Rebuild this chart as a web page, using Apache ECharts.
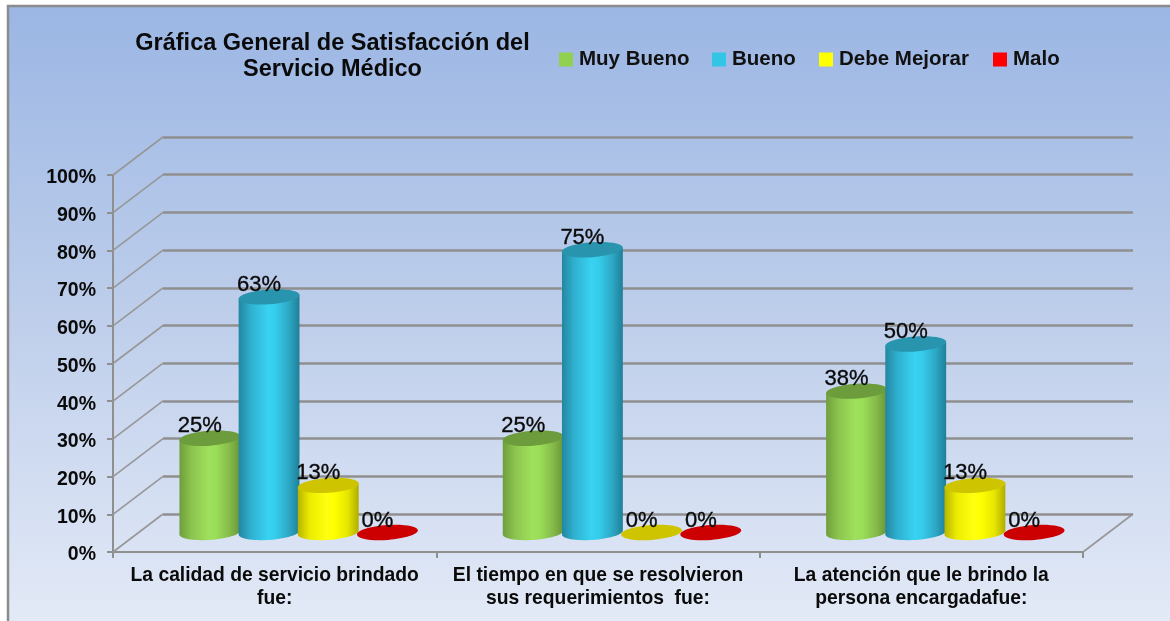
<!DOCTYPE html>
<html><head><meta charset="utf-8">
<style>html,body{margin:0;padding:0;background:#fff;overflow:hidden}#c{position:absolute;left:0;top:0;width:1170px;height:621px;filter:blur(0.5px)}</style>
<script src="https://cdn.jsdelivr.net/npm/echarts@6/dist/echarts.min.js"></script>
</head><body><div id="c"></div>
<script>
const categories = ['La calidad de servicio brindado\nfue:', 'El tiempo en que se resolvieron\nsus requerimientos  fue:', 'La atención que le brindo la\npersona encargadafue:'];
const muyBueno = [25, 25, 37.5];
const bueno = [62.5, 75, 50];
const debeMejorar = [12.5, 0, 12.5];
const malo = [0, 0, 0];
const valueTicks = [0, 10, 20, 30, 40, 50, 60, 70, 80, 90, 100];
const titleText = 'Gráfica General de Satisfacción del\nServicio Médico';

const DEPTH_X = 50, DEPTH_Y = 38;
const RX = 30.5, RY = 7.4, TILT = 0.07, STEP = 59.2;
const palettes = [
  {name:'Muy Bueno', data:muyBueno, legend:'#92d050', legendLeft:554, top:'#6c9c3c', stops:['#6f9e3e','#8cc44e','#9fe05c','#9ade58','#86bb4a','#679539']},
  {name:'Bueno', data:bueno, legend:'#33c5e6', legendLeft:707, top:'#2894ae', stops:['#2386a0','#2fb0cf','#38d2f2','#36cdec','#2da9c6','#1f7f98']},
  {name:'Debe Mejorar', data:debeMejorar, legend:'#ffff00', legendLeft:814, top:'#cfc400', stops:['#b8b400','#ecec00','#ffff10','#ffff00','#e6e600','#b0ac00']},
  {name:'Malo', data:malo, legend:'#ff0000', legendLeft:988, top:'#cc0000', stops:['#a00000','#e00000','#ff0000','#ff0000','#d80000','#980000']}
];

function cylinder(sIdx, pal) {
  return function (params, api) {
    const cat = api.value(0), val = api.value(1);
    const base = api.coord([cat, 0]), topP = api.coord([cat, val]);
    const cx = base[0] + DEPTH_X / 2 - 1 + (sIdx - 1.5) * STEP;
    const by = base[1] - DEPTH_Y / 2 - 0.5, ty = topP[1] - DEPTH_Y / 2 - 0.5;
    const pt = (y, a) => {
      const ex = RX * Math.cos(a), ey = RY * Math.sin(a);
      return [cx + ex * Math.cos(TILT) + ey * Math.sin(TILT), y - ex * Math.sin(TILT) + ey * Math.cos(TILT)];
    };
    const a0 = Math.atan2(RY * Math.sin(TILT), RX * Math.cos(TILT));
    const children = [];
    if (val > 0) {
      const pts = [pt(ty, a0)];
      for (let i = 0; i <= 32; i++) pts.push(pt(by, a0 + Math.PI * i / 32));
      pts.push(pt(ty, a0 + Math.PI));
      children.push({type:'polygon', shape:{points:pts}, style:{fill:{type:'linear',x:0,y:0,x2:1,y2:0,
        colorStops:pal.stops.map((c,i)=>({offset:[0,0.2,0.48,0.6,0.82,1][i],color:c}))}}});
    }
    children.push({type:'ellipse', x:cx, y:ty, rotation:TILT, shape:{cx:0,cy:0,rx:RX,ry:RY}, style:{fill:pal.top}});
    children.push({type:'text', x:cx - 10, y:ty - 12, style:{text:Math.round(val)+'%', fill:'#0a0a0a', stroke:'#0a0a0a', lineWidth:0.35, font:'22px "Liberation Sans"', align:'center', verticalAlign:'middle'}});
    return {type:'group', children};
  };
}

function depthLines(params, api) {
  const v = api.value(0), p = api.coord([0, v]);
  const left = params.coordSys.x;
  return {type:'line', shape:{x1:left,y1:p[1],x2:left+DEPTH_X,y2:p[1]-DEPTH_Y}, style:{stroke:'#979797',lineWidth:1.6}};
}
function floorEnd(params, api) {
  const cs = params.coordSys, right = cs.x + cs.width, b = cs.y + cs.height;
  return {type:'line', shape:{x1:right,y1:b,x2:right+DEPTH_X,y2:b-DEPTH_Y}, style:{stroke:'#979797',lineWidth:1.6}};
}

const chart = echarts.init(document.getElementById('c'), null, {renderer:'canvas'});
chart.setOption({
  animation:false,
  backgroundColor:'#ffffff',
  graphic:[{type:'rect', z:-10, shape:{x:8,y:6,width:1200,height:640},
    style:{fill:{type:'linear',x:0,y:0,x2:0,y2:1,colorStops:[{offset:0,color:'#9bb6e4'},{offset:0.5,color:'#bfcfeb'},{offset:1,color:'#e6ecf8'}]},stroke:'#8c8c8c',lineWidth:2.5}}],
  title:{text:titleText,left:327.5,top:26,textAlign:'center',textStyle:{fontSize:23.5,fontWeight:'bold',fontFamily:'Liberation Sans',color:'#0a0a0a',lineHeight:26}},
  legend:palettes.map(p=>({left:p.legendLeft,top:44,itemWidth:14,itemHeight:14,itemGap:0,icon:'rect',
    textStyle:{fontFamily:'Liberation Sans',fontWeight:'bold',fontSize:20.5,color:'#111',padding:[0,0,0,1]},
    data:[{name:p.name,itemStyle:{color:p.legend}}]})),
  grid:[
    {left:113,top:175,width:970,height:377},
    {left:163,top:137,width:970,height:377},
    {left:113,top:178,width:970,height:377}
  ],
  xAxis:[
    {type:'category',gridIndex:0,data:categories,boundaryGap:true,
     axisLine:{lineStyle:{color:'#8f8f8f',width:2}},
     axisTick:{show:true,length:6,lineStyle:{color:'#8f8f8f',width:2}},
     axisLabel:{color:'#0a0a0a',fontFamily:'Liberation Sans',fontWeight:'bold',fontSize:19.3,lineHeight:23,margin:12,interval:0}},
    {type:'category',gridIndex:1,data:categories,show:false},
    {type:'category',gridIndex:2,data:categories,show:false}
  ],
  yAxis:[
    {type:'value',gridIndex:0,min:0,max:100,interval:10,
     axisLine:{show:true,lineStyle:{color:'#8f8f8f',width:2}},
     axisTick:{show:true,length:6,lineStyle:{color:'#8f8f8f',width:2}},
     splitLine:{show:false},axisLabel:{show:false}},
    {type:'value',gridIndex:1,min:0,max:100,interval:10,
     axisLine:{show:false},axisTick:{show:false},axisLabel:{show:false},
     splitLine:{show:true,lineStyle:{color:'#8f8f8f',width:2.5}}},
    {type:'value',gridIndex:2,min:0,max:100,interval:10,
     axisLine:{show:false},axisTick:{show:false},splitLine:{show:false},
     axisLabel:{formatter:'{value}%',color:'#0a0a0a',fontFamily:'Liberation Sans',fontWeight:'bold',fontSize:19.5,margin:17}}
  ],
  series:[
    {type:'custom',name:'_depth',xAxisIndex:0,yAxisIndex:0,silent:true,z:1,clip:false,renderItem:depthLines,encode:{y:0},data:valueTicks.map(v=>[v])},
    {type:'custom',name:'_floor',xAxisIndex:0,yAxisIndex:0,silent:true,z:1,clip:false,renderItem:floorEnd,data:[[0]]},
    ...palettes.map((p,i)=>({type:'custom',name:p.name,xAxisIndex:0,yAxisIndex:0,z:5+i,clip:false,
      itemStyle:{color:p.legend},encode:{x:0,y:1},renderItem:cylinder(i,p),
      data:p.data.map((v,c)=>[c,v])}))
  ]
});
</script></body></html>
